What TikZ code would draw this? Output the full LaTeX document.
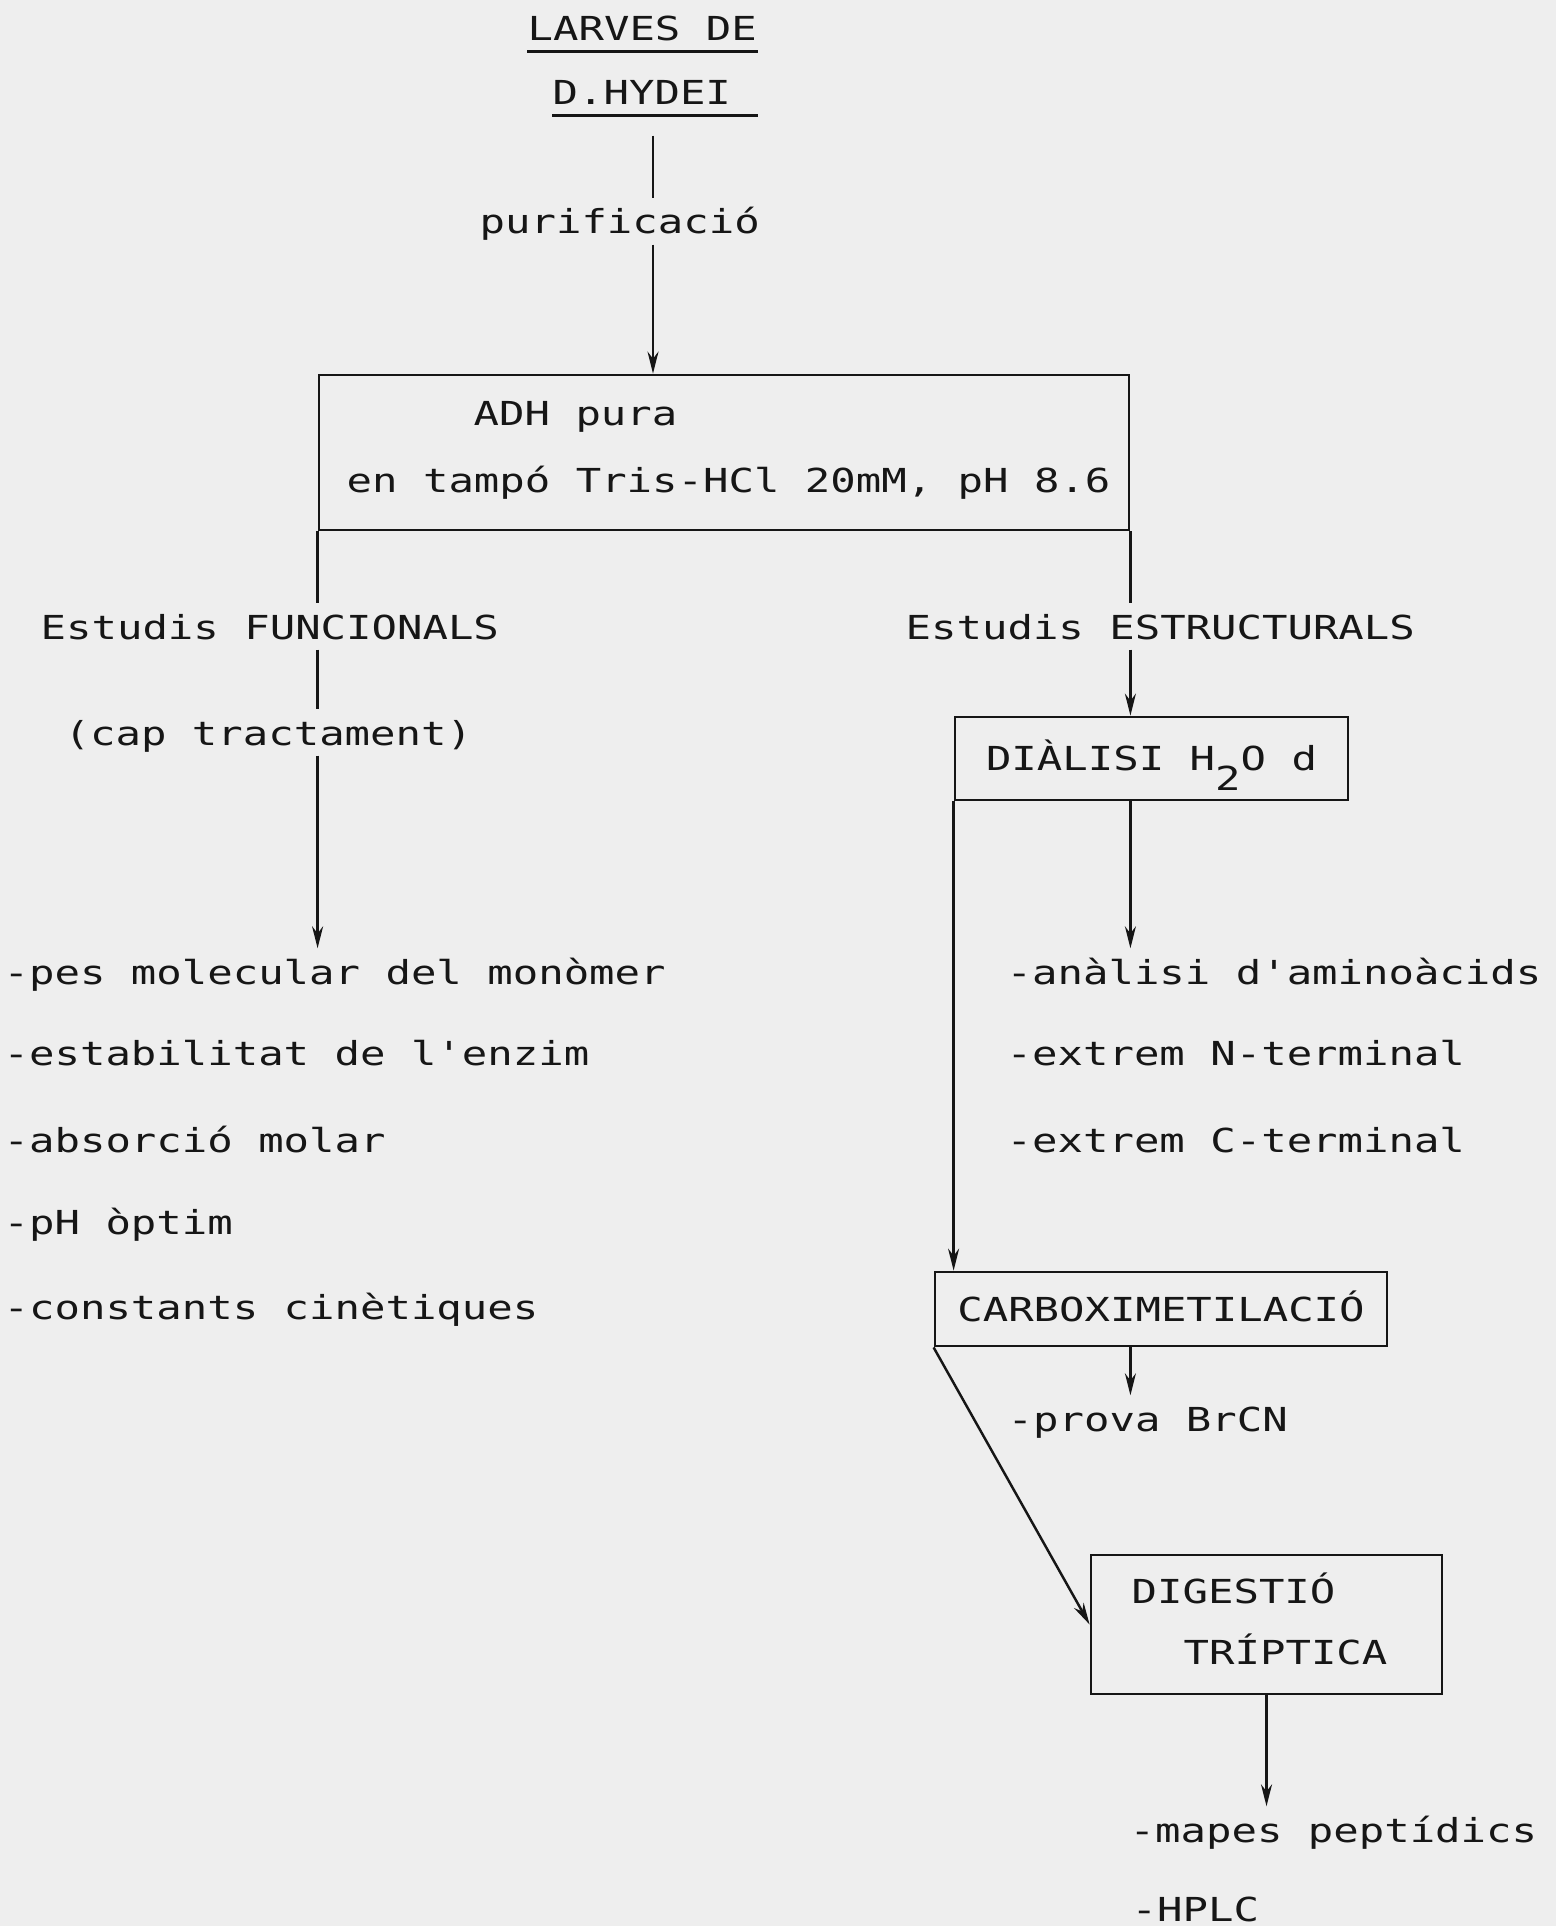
\documentclass[tikz,border=0pt]{standalone}
\usepackage{fontspec}
\usepackage{xcolor}
\usepackage{tikz}
\usetikzlibrary{arrows.meta,positioning,calc}
\newfontfamily\typewriter[FakeStretch=1.28]{DejaVu Sans Mono}
\definecolor{paper}{RGB}{238,238,238}
\definecolor{ink}{RGB}{22,22,22}

\begin{document}
\begin{tikzpicture}[
  font=\typewriter\fontsize{9.4}{11}\selectfont,
  color=ink,
  label/.style={anchor=base west,inner xsep=0pt,inner ysep=1mm,text height=2.5mm,text depth=0pt},
  frame/.style={draw,line width=0.8pt,inner sep=0pt,text height=2.4mm,text depth=0pt},
  line/.style={line width=0.7pt},
  arr/.style={line width=0.7pt,-{Stealth[length=2.2mm,width=1.1mm]}},
]
\fill[paper] (0,0) rectangle (15.56,-19.26);
\useasboundingbox (0,0) rectangle (15.56,-19.26);
\coordinate (spine) at (6.53,0);

\node[label] (larves) at (5.27,-0.41)  {LARVES DE};
\node[label] (hydei)  at (5.52,-1.05)  {D.HYDEI};
\node[label] (purif)  at (4.79,-2.34)  {purificació};

\node[frame,minimum width=8.10cm,minimum height=1.55cm] (adh) at (7.24,-4.525) {};
\node[label] (adhA) at (4.73,-4.26) {ADH pura};
\node[label] (adhB) at (3.46,-4.92) {en tampó Tris-HCl 20mM, pH 8.6};

\node[label] (funcional)   at (0.40,-6.39) {Estudis FUNCIONALS};
\node[label] (estructural) at (9.05,-6.39) {Estudis ESTRUCTURALS};
\node[label] (cap)         at (0.64,-7.45) {(cap tractament)};

\node[frame,minimum width=3.93cm,minimum height=0.83cm] (dialisi) at (11.515,-7.585)
  {DIÀLISI H\raisebox{-2mm}{2}O d};

\node[label] (pes)    at (0.03,-9.84)  {-pes molecular del monòmer};
\node[label] (estab)  at (0.03,-10.65) {-estabilitat de l'enzim};
\node[label] (absorc) at (0.03,-11.52) {-absorció molar};
\node[label] (ph)     at (0.03,-12.34) {-pH òptim};
\node[label] (cinet)  at (0.03,-13.19) {-constants cinètiques};

\node[label] (amino) at (10.06,-9.84)  {-anàlisi d'aminoàcids};
\node[label] (nterm) at (10.06,-10.65) {-extrem N-terminal};
\node[label] (cterm) at (10.06,-11.52) {-extrem C-terminal};

\node[frame,minimum width=4.52cm,minimum height=0.74cm] (carbox) at (11.61,-13.09) {CARBOXIMETILACIÓ};
\node[label] (prova) at (10.07,-14.31) {-prova BrCN};

\node[frame,minimum width=3.51cm,minimum height=1.39cm] (digest) at (12.665,-16.245) {};
\node[label] (digA) at (11.31,-16.03) {DIGESTIÓ};
\node[label] (digB) at (11.83,-16.64) {TRÍPTICA};

\node[label] (mapes) at (11.29,-18.42) {-mapes peptídics};
\node[label] (hplc)  at (11.31,-19.21) {-HPLC};

\draw[line] (larves.south west) -- (larves.south east);
\draw[line] (hydei.south west) -- (hydei.south west -| larves.south east);
\draw[line,shorten <=2mm] (hydei.south -| spine) -- (purif.north -| spine);
\draw[arr] (purif.south -| spine) -- (adh.north -| spine);

\draw[line] (adh.south west) -- (funcional.north -| adh.south west);
\draw[line] (funcional.south -| adh.south west) -- (cap.north -| adh.south west);
\draw[arr] (cap.south -| adh.south west) -- (pes.north -| adh.south west);

\draw[line] (adh.south east) -- (estructural.north -| adh.south east);
\draw[arr] (estructural.south -| adh.south east) -- (dialisi.north -| adh.south east);
\draw[arr] (dialisi.south -| adh.south east) -- (amino.north -| adh.south east);
\draw[arr] (dialisi.south west) -- (carbox.north -| dialisi.south west);
\draw[arr] (carbox.south -| adh.south east) -- (prova.north -| adh.south east);
\draw[arr] (carbox.south west) -- (digest.west);
\draw[arr] (digest.south) -- (mapes.north -| digest.south);
\end{tikzpicture}
\end{document}
